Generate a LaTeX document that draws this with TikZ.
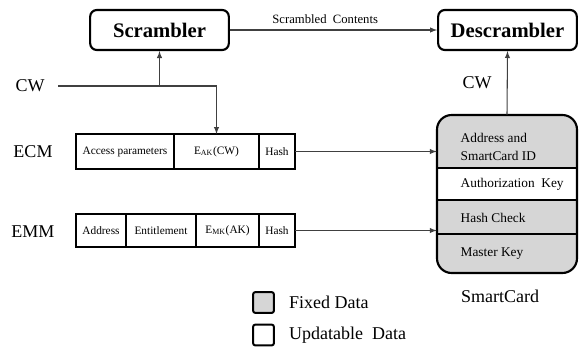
\documentclass[tikz,border=0pt]{standalone}
\usepackage{fontspec}
\setmainfont{Liberation Serif}
\usepackage{xcolor}
\usetikzlibrary{arrows.meta, positioning, calc}
\definecolor{fixedgray}{RGB}{214,214,214}

\begin{document}
\begin{tikzpicture}[
    x=0.75pt, y=-0.75pt,
    >=latex,
    % Styles for boxes, fields and links
    unit/.style={draw=black, line width=1.6pt, rounded corners=5pt, minimum width=104pt, minimum height=30pt, font=\fontsize{15.5}{18}\selectfont\bfseries},
    cell/.style={draw=black, line width=1.5pt, outer sep=0pt, inner sep=1pt, font=\fontsize{8.5}{10}\selectfont},
    link/.style={draw=black!75, line width=0.8pt},
    tag/.style={font=\fontsize{13.5}{16}\selectfont},
    cardtext/.style={anchor=west, font=\fontsize{10}{13.5}\selectfont, align=left},
    swatch/.style={draw=black, line width=1.5pt, rounded corners=1.5pt, minimum size=15.5pt}
]
    \useasboundingbox (0,0) rectangle (581,347);

    % 1. Scrambler and Descrambler
    \node[unit] (scrambler) at (159.5,30) {Scrambler};
    \node[unit] (descrambler) at (507.5,30) {Descrambler};
    \draw[link, ->] (scrambler) -- (descrambler)
        node[pos=0.46, above=1pt, font=\fontsize{9.5}{11}\selectfont] (scrambled) {Scrambled\ \ Contents};

    % 2. Labels on the left
    \node[tag] (cwin) at (30,86) {CW};
    \node[tag] (ecmtag) at (33,152) {ECM};
    \node[tag] (emmtag) at (33,232) {EMM};

    % 3. ECM fields
    \node[cell, minimum width=73.5pt, minimum height=26.25pt, anchor=west] (ecmparams) at (76,151.5) {Access parameters};
    \node[cell, minimum width=63.75pt, minimum height=26.25pt, anchor=west] (ecmkey) at (ecmparams.east) {E\textsubscript{AK}(CW)};
    \node[cell, minimum width=27pt, minimum height=26.25pt, anchor=west] (ecmhash) at (ecmkey.east) {Hash};

    % 4. EMM fields
    \node[cell, minimum width=37.5pt, minimum height=24.75pt, anchor=west] (emmaddr) at (76,230.5) {Address};
    \node[cell, minimum width=52.5pt, minimum height=24.75pt, anchor=west] (emment) at (emmaddr.east) {Entitlement};
    \node[cell, minimum width=47.25pt, minimum height=24.75pt, anchor=west] (emmkey) at (emment.east) {E\textsubscript{MK}(AK)};
    \node[cell, minimum width=27pt, minimum height=24.75pt, anchor=west] (emmhash) at (emmkey.east) {Hash};

    % 5. The SmartCard
    \node[fill=fixedgray, rounded corners=11pt, minimum width=105pt, minimum height=118.5pt] (card) at (507,194) {};
    \fill[white] (card.west |- 0,168) rectangle (card.east |- 0,200);
    \draw[line width=1.5pt] (card.west |- 0,168) -- (card.east |- 0,168);
    \draw[line width=1.5pt] (card.west |- 0,200) -- (card.east |- 0,200);
    \draw[line width=1.5pt] (card.west |- 0,234) -- (card.east |- 0,234);
    \node[draw=black, line width=1.6pt, rounded corners=11pt, minimum width=105pt, minimum height=118.5pt] (cardedge) at (card.center) {};

    \node[cardtext] (cardid) at (456,147) {Address and\\SmartCard ID};
    \node[cardtext] (cardak) at (456,184) {Authorization\ \ Key};
    \node[cardtext] (cardhash) at (456,218) {Hash Check};
    \node[cardtext] (cardmk) at (456,254) {Master Key};
    \node[tag] (cardname) at (500,296) {SmartCard};

    % 6. Control word paths
    \coordinate (cwstart) at (58,86);
    \draw[link, ->] (cwstart) -| (ecmkey.north);
    \draw[link, ->] (scrambler.south |- cwstart) -- (scrambler.south);
    \draw[link, ->] (card.north) -- (descrambler.south)
        node[midway, left=8pt, tag] (cwout) {CW};

    % 7. Messages into the card
    \draw[link, ->] (ecmhash.east) -- (ecmhash.east -| card.west);
    \draw[link, ->] (emmhash.east) -- (emmhash.east -| card.west);

    % 8. Legend
    \node[swatch, fill=fixedgray] (fixedbox) at (263.5,302.5) {};
    \node[tag, anchor=west] (fixedtext) at (284.5,302.5) {Fixed Data};
    \node[swatch, fill=white] (updbox) at (263.5,335) {};
    \node[tag, anchor=west] (updtext) at (284.5,335) {Updatable\ \ Data};

\end{tikzpicture}
\end{document}
